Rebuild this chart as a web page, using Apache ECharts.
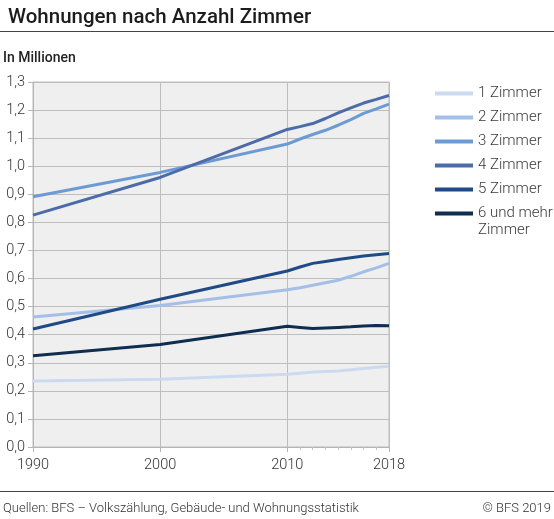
<!DOCTYPE html>
<html lang="de">
<head>
    <meta charset="UTF-8">
    <title>Wohnungen nach Anzahl Zimmer</title>
    <script src="https://cdn.jsdelivr.net/npm/echarts@6/dist/echarts.min.js"></script>
    <style>
        * { margin: 0; padding: 0; }
        #chart { width: 554px; height: 519px; background: #fff; }
    </style>
</head>
<body>
    <div id="chart"></div>
    <script type="text/javascript">
        // Daten (in Millionen)
        var years = [1990, 2000, 2010, 2011, 2012, 2013, 2014, 2015, 2016, 2017, 2018];
        var names = ['1 Zimmer', '2 Zimmer', '3 Zimmer', '4 Zimmer', '5 Zimmer', '6 und mehr Zimmer'];
        var zimmer1 = [0.235, 0.241, 0.259, 0.263, 0.267, 0.269, 0.271, 0.275, 0.280, 0.284, 0.288];
        var zimmer2 = [0.463, 0.504, 0.560, 0.567, 0.576, 0.585, 0.594, 0.608, 0.624, 0.638, 0.654];
        var zimmer3 = [0.891, 0.978, 1.079, 1.097, 1.113, 1.128, 1.146, 1.166, 1.188, 1.204, 1.221];
        var zimmer4 = [0.826, 0.960, 1.131, 1.141, 1.152, 1.170, 1.190, 1.208, 1.225, 1.238, 1.252];
        var zimmer5 = [0.420, 0.526, 0.627, 0.641, 0.654, 0.661, 0.668, 0.674, 0.680, 0.685, 0.689];
        var zimmer6 = [0.325, 0.365, 0.430, 0.426, 0.422, 0.424, 0.426, 0.428, 0.431, 0.433, 0.432];
        var colors = ['#cbdaf0', '#a3bfe8', '#6c9bd3', '#4b6ca8', '#1f4a85', '#0e2d4f'];
        var yTicks = [0, 1.3, 0.1];

        var allValues = [zimmer1, zimmer2, zimmer3, zimmer4, zimmer5, zimmer6];

        function pairs(vals) {
            return years.map(function (y, i) { return [y, vals[i]]; });
        }

        var minorYears = years.filter(function (y) { return y > 2010 && y < 2018; });

        var font = 'Roboto, "Noto Sans", sans-serif';
        var chart = echarts.init(document.getElementById('chart'));

        var series = names.map(function (n, i) {
            return {
                name: n,
                type: 'line',
                data: pairs(allValues[i]),
                showSymbol: false,
                symbol: 'none',
                lineStyle: { width: 3, color: colors[i] },
                itemStyle: { color: colors[i] },
                z: 3 + i
            };
        });

        var option = {
            animation: false,
            textStyle: { fontFamily: font },
            title: {
                text: 'Wohnungen nach Anzahl Zimmer',
                left: 3,
                top: 2,
                textStyle: { fontSize: 20.5, fontWeight: 500, color: '#1c1c1c', fontFamily: font }
            },
            legend: {
                orient: 'vertical',
                left: 430,
                top: 81,
                itemWidth: 38,
                itemHeight: 4,
                itemGap: 9,
                icon: 'rect',
                data: names,
                formatter: function (n) {
                    return n === '6 und mehr Zimmer' ? '6 und mehr' : n;
                },
                textStyle: { fontSize: 15, color: '#3a3a3a', fontWeight: 300 }
            },
            grid: {
                left: 33,
                right: 165,
                top: 82,
                bottom: 72,
                show: true,
                backgroundColor: '#efefef',
                borderColor: '#bdbdbd',
                borderWidth: 1
            },
            xAxis: [{
                type: 'value',
                min: 1990,
                max: 2018,
                interval: 10,
                axisLine: { show: true, lineStyle: { color: '#b5b5b5' } },
                axisTick: { show: true, length: 5, lineStyle: { color: '#b5b5b5' } },
                axisLabel: {
                    fontSize: 14.5, color: '#333', fontWeight: 300, margin: 11,
                    formatter: function (v) { return String(v); }
                },
                splitLine: { show: true, lineStyle: { color: '#bdbdbd' } }
            }, {
                type: 'value',
                min: 1990,
                max: 2018,
                position: 'bottom',
                axisLine: { show: false },
                axisLabel: { show: false },
                splitLine: { show: false },
                axisTick: {
                    show: true,
                    length: 3,
                    customValues: minorYears,
                    lineStyle: { color: '#c5c5c5' }
                }
            }],
            yAxis: {
                type: 'value',
                min: yTicks[0],
                max: yTicks[1],
                interval: yTicks[2],
                axisLine: { show: true, lineStyle: { color: '#b5b5b5' } },
                axisTick: { show: true, length: 5, lineStyle: { color: '#b5b5b5' } },
                axisLabel: {
                    fontSize: 14.5,
                    color: '#333',
                    fontWeight: 300,
                    margin: 8,
                    formatter: function (v) { return v.toFixed(1).replace('.', ','); }
                },
                splitLine: { show: true, lineStyle: { color: '#bdbdbd' } }
            },
            graphic: [
                { type: 'line', shape: { x1: 0, y1: 31.5, x2: 554, y2: 31.5 }, style: { stroke: '#444', lineWidth: 1 } },
                { type: 'text', left: 3, top: 51, style: { text: 'In Millionen', fontSize: 14, fontWeight: 500, fill: '#222', fontFamily: font } },
                { type: 'text', left: 478, top: 223, style: { text: 'Zimmer', fontSize: 15, fontWeight: 300, fill: '#3a3a3a', fontFamily: font } },
                { type: 'line', shape: { x1: 0, y1: 491.5, x2: 554, y2: 491.5 }, style: { stroke: '#444', lineWidth: 1 } },
                { type: 'text', left: 3, top: 502, style: { text: 'Quellen: BFS – Volkszählung, Gebäude- und Wohnungsstatistik', fontSize: 13, fontWeight: 300, fill: '#333', fontFamily: font } },
                { type: 'text', right: 3, top: 502, style: { text: '© BFS 2019', fontSize: 13, fontWeight: 300, fill: '#333', fontFamily: font } }
            ],
            series: series
        };

        chart.setOption(option);
    </script>
</body>
</html>
